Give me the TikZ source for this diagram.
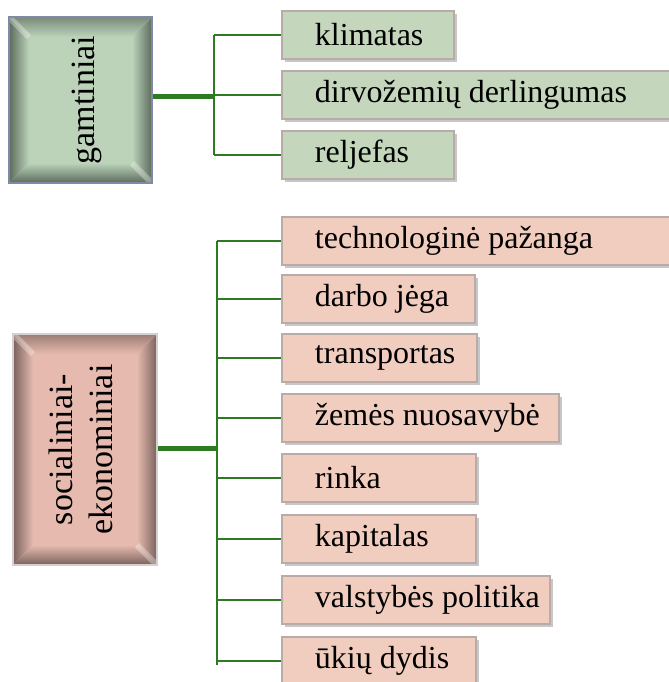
\documentclass[tikz,border=0pt]{standalone}
\usepackage{fontspec}
\setmainfont{Liberation Serif}
\usetikzlibrary{shadows}

\definecolor{lineG}{HTML}{2E7A22}
\definecolor{rootG}{HTML}{BCD3BA}
\definecolor{rootGdark}{HTML}{5C6B5C}
\definecolor{rootGline}{HTML}{8089A6}
\definecolor{rootP}{HTML}{E6BAAE}
\definecolor{rootPdark}{HTML}{7A625C}
\definecolor{rootPline}{HTML}{D6CFCF}
\definecolor{leafG}{HTML}{C4D6BC}
\definecolor{leafP}{HTML}{F0CDBE}
\definecolor{leafline}{HTML}{B9ABA7}

\tikzset{
  % bevelled root box: fill / dark edge / border
  root/.style n args={3}{draw=#3, line width=1pt, fill=#1,
    inner sep=0pt, font=\fontsize{17}{20}\selectfont,
    path picture={
      \coordinate (sw) at (path picture bounding box.south west);
      \coordinate (nw) at (path picture bounding box.north west);
      \coordinate (ne) at (path picture bounding box.north east);
      \coordinate (se) at (path picture bounding box.south east);
      \shade[left color=#2, right color=#1] (sw) -- (nw) -- ([shift={(10pt,-10pt)}]nw) -- ([shift={(10pt,10pt)}]sw) -- cycle;
      \shade[left color=#1, right color=#2] (se) -- (ne) -- ([shift={(-10pt,-10pt)}]ne) -- ([shift={(-10pt,10pt)}]se) -- cycle;
      \shade[top color=#2!70!#1, bottom color=#1] (nw) -- (ne) -- ([shift={(-10pt,-10pt)}]ne) -- ([shift={(10pt,-10pt)}]nw) -- cycle;
      \shade[bottom color=#2, top color=#1] (sw) -- (se) -- ([shift={(-10pt,10pt)}]se) -- ([shift={(10pt,10pt)}]sw) -- cycle;
      \draw[white, opacity=.3, line width=3pt] (nw) -- ++(10pt,-10pt) (se) -- ++(-10pt,10pt);
    }},
  leaf/.style={draw=leafline, line width=1pt, fill=#1, anchor=west,
    minimum height=24pt, inner xsep=4pt,
    font=\fontsize{16}{19}\selectfont,
    drop shadow={shadow xshift=1.5pt, shadow yshift=-1.5pt, opacity=.22, fill=black}},
  stem/.style={lineG, line width=2.5pt},
  twig/.style={lineG, line width=1pt}
}

\begin{document}
\begin{tikzpicture}[x=0.5pt,y=-0.5pt]
  \useasboundingbox (0,0) rectangle (669,682);

  %root boxes
  \node[root={rootG}{rootGdark}{rootGline}, minimum width=71.5pt, minimum height=83pt]
    (gamt) at (80.5,100) {\hspace*{6pt}\rotatebox{90}{gamtiniai}};
  \node[root={rootP}{rootPdark}{rootPline}, minimum width=72pt, minimum height=115.5pt]
    (soc) at (85,449.5) {\rotatebox{90}{\begin{tabular}{@{}c@{}}socialiniai-\\ekonominiai\end{tabular}}};

  %natural factors
  \foreach \nm/\yy/\tw/\txt in {klim/34.5/78/klimatas,
      dirv/94.5/192/dirvožemių derlingumas,
      relj/154.5/78/reljefas}
    \node[leaf=leafG] (\nm) at (281,\yy) {\makebox[\tw pt][l]{\hspace*{12.5pt}\txt}};

  %socio-economic factors
  \foreach \nm/\yy/\tw/\txt in {tech/240.5/192/technologinė pažanga,
      darb/298.5/88.5/darbo jėga,
      tran/358/89.5/transportas,
      zeme/417.5/130.5/žemės nuosavybė,
      rink/477.5/89/rinka,
      kapi/538.5/89/kapitalas,
      vals/599.5/126/valstybės politika,
      ukiu/661/89/ūkių dydis}
    \node[leaf=leafP] (\nm) at (281,\yy) {\makebox[\tw pt][l]{\hspace*{12.5pt}\txt}};

  %connectors
  \coordinate (ja) at (214,96);
  \coordinate (jb) at (217,448);
  \draw[stem] (gamt.east |- ja) -- (ja);
  \draw[twig] (ja |- klim.west) -- (ja |- relj.west);
  \foreach \n in {klim,dirv,relj}
    \draw[twig] (ja |- \n.west) -- (\n.west);

  \draw[stem] (soc.east |- jb) -- (jb);
  \draw[twig] (jb |- tech.west) -- ([yshift=-2pt]jb |- ukiu.west);
  \foreach \n in {tech,darb,tran,zeme,rink,kapi,vals,ukiu}
    \draw[twig] (jb |- \n.west) -- (\n.west);
\end{tikzpicture}
\end{document}
